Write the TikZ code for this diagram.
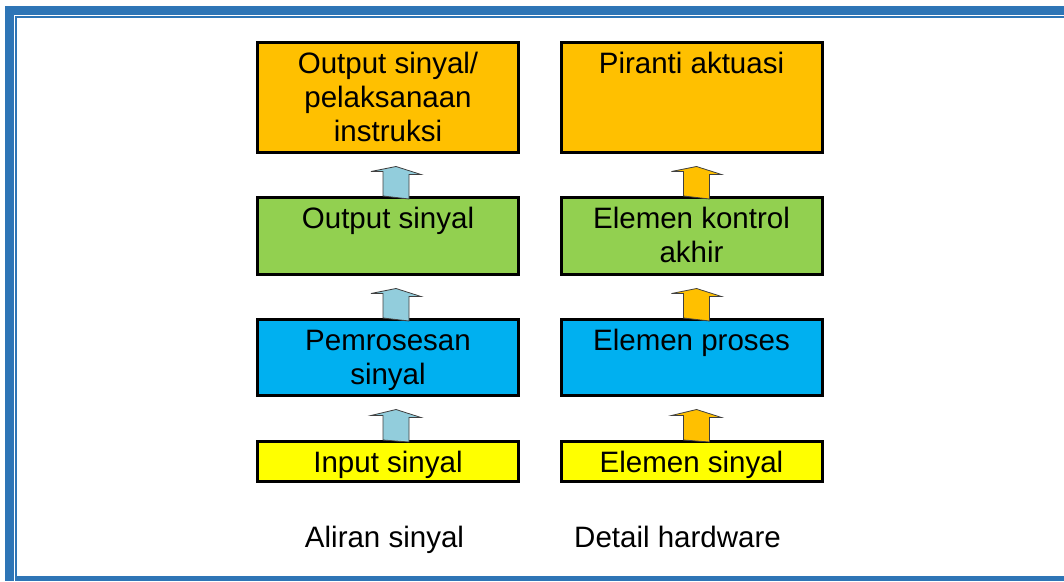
\documentclass[tikz,border=0pt]{standalone}
\usepackage{fontspec}
\setmainfont{Liberation Sans}
\usetikzlibrary{calc}
\definecolor{frameblue}{HTML}{2E75B6}
\definecolor{boxorange}{HTML}{FFC000}
\definecolor{boxgreen}{HTML}{92D050}
\definecolor{boxblue}{HTML}{00B0F0}
\definecolor{boxyellow}{HTML}{FFFF00}
\definecolor{arrblue}{HTML}{92CDDC}
\tikzset{
	box/.style 2 args={draw,line width=3pt,fill=#1,minimum width=261pt,minimum height=#2,inner sep=0pt},
	captxt/.style={anchor=base,align=center,inner sep=0pt,font=\fontsize{29.5}{34}\selectfont},
	txt/.style={captxt,anchor=north,execute at begin node={\rule{0pt}{26pt}}},
	blk/.style={draw=black!75,line width=0.8pt}
}
% block arrow from the lower box #1 up to the upper box #2, fill #3, shift #4
\newcommand{\blockarrow}[4]{%
	\draw[blk,fill=#3] ($(#1.north)+(#4-13,0)$) -- ++(0,-24.5) -- ++(-12,0) -- ($(#2.south)+(#4,12.5)$) -- ++(25,8) -- ++(-12,0) -- ++(0,24.5) -- cycle;
}

\begin{document}
\begin{tikzpicture}[x=1pt,y=-1pt]%[scale=1.5]
	\useasboundingbox (0,0) rectangle (1064,581);
	% frame
	\draw[frameblue,line width=9pt] (1064,10.5) -- (9.5,10.5) -- (9.5,581);
	\draw[frameblue,line width=2pt] (1064,17) -- (16,17) -- (16,577);
	\fill[frameblue] (15,576) rectangle (1064,581);

	% signal flow
	\node [box={boxorange}{110pt}] (outL) at (388,97.5) {};
	\node [box={boxgreen}{77pt}] (ctlL) at (388,236) {};
	\node [box={boxblue}{76pt}] (procL) at (388,357.5) {};
	\node [box={boxyellow}{40pt}] (inL) at (388,461.5) {};

	% hardware
	\node [box={boxorange}{110pt}] (outR) at (691.5,97.5) {};
	\node [box={boxgreen}{77pt}] (ctlR) at (691.5,236) {};
	\node [box={boxblue}{76pt}] (procR) at (691.5,357.5) {};
	\node [box={boxyellow}{40pt}] (inR) at (691.5,461.5) {};

	\node [txt] at ($(outL.north)+(0,10.5)$) {Output sinyal/\\pelaksanaan\\instruksi};
	\node [txt] at ($(ctlL.north)+(0,6.5)$) {Output sinyal};
	\node [txt] at ($(procL.north)+(0,11.5)$) {Pemrosesan\\sinyal};
	\node [txt] at ($(inL.north)+(0,6)$) {Input sinyal};
	\node [txt] at ($(outR.north)+(0,6.5)$) {Piranti aktuasi};
	\node [txt] at ($(ctlR.north)+(0,10.5)$) {Elemen kontrol\\akhir};
	\node [txt] at ($(procR.north)+(0,6.5)$) {Elemen proses};
	\node [txt] at ($(inR.north)+(0,6)$) {Elemen sinyal};

	\blockarrow{ctlL}{outL}{arrblue}{8}
	\blockarrow{procL}{ctlL}{arrblue}{8}
	\blockarrow{inL}{procL}{arrblue}{8}
	\blockarrow{ctlR}{outR}{boxorange}{5}
	\blockarrow{procR}{ctlR}{boxorange}{5}
	\blockarrow{inR}{procR}{boxorange}{5}

	\node [captxt] (capL) at (384.5,547) {Aliran sinyal};
	\node [captxt] (capR) at (677.5,547) {Detail hardware};
\end{tikzpicture}
\end{document}
